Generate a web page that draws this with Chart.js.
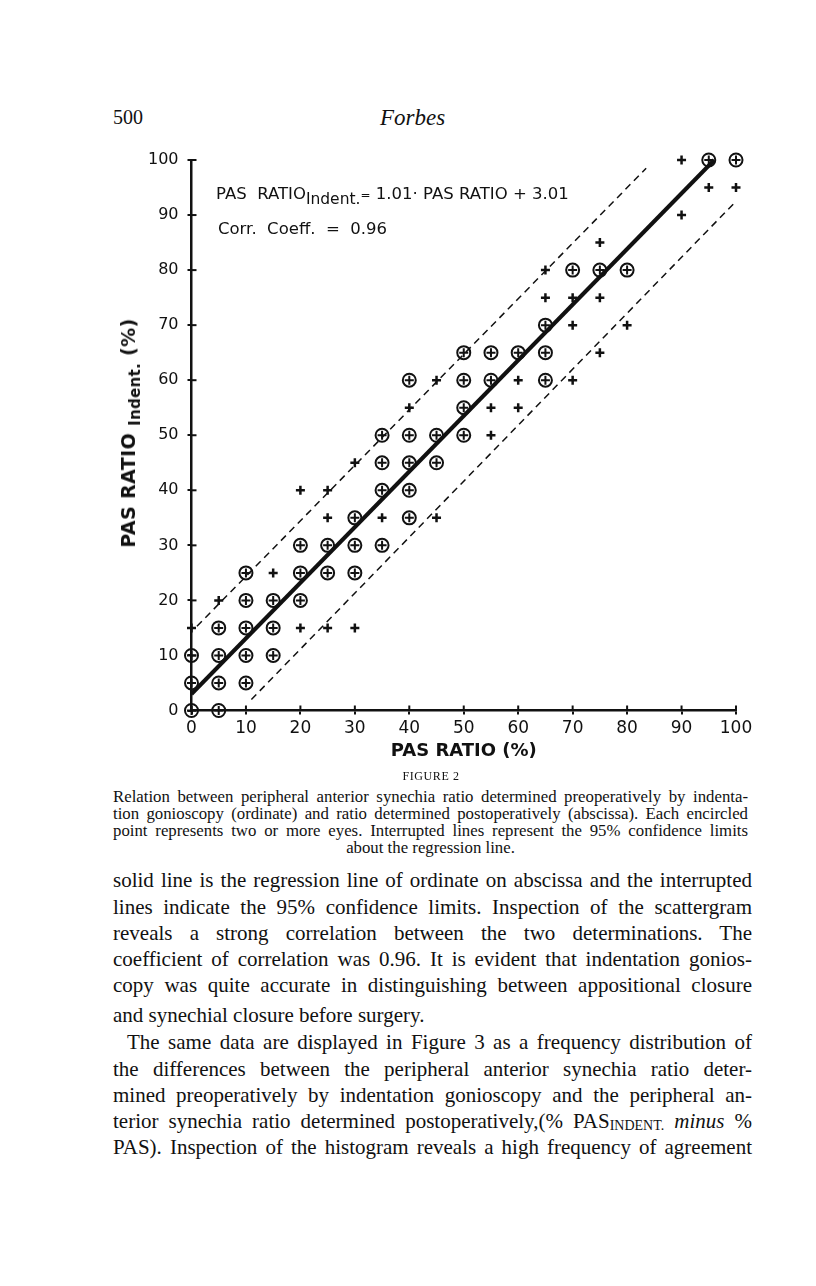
<!DOCTYPE html>
<html lang="en">
<head>
<meta charset="UTF-8">
<title>Figure 2 - PAS ratio scattergram</title>
<script src="https://cdn.jsdelivr.net/npm/chart.js"></script>
<style>
  body { margin: 0; background: #fff; color: #111; }
  #page { position: relative; width: 816px; height: 1286px; overflow: hidden; }
  .serif { font-family: "Liberation Serif", "DejaVu Serif", serif; }
  .abs { position: absolute; white-space: nowrap; }
  .line { position: absolute; left: 113px; white-space: nowrap; text-align: justify; text-align-last: justify; }
  .last { text-align-last: left; }
  .sans { font-family: "DejaVu Sans", "Liberation Sans", sans-serif; }
  #chartBox { position: absolute; left: 100px; top: 130px; width: 680px; height: 640px; }
</style>
</head>
<body>
<div id="page">
  <div class="abs serif" style="left:113px; top:106px; font-size:20px;">500</div>
  <div class="abs serif" style="left:380px; top:105px; font-size:23px; font-style:italic;">Forbes</div>

  <div id="chartBox"><canvas id="scatter" width="680" height="640"></canvas></div>

  <!-- y axis title, rotated, with subscript -->
  <div class="abs sans" style="left:128px; top:433px; transform:translate(-50%,-50%) rotate(-90deg); font-size:19px; font-weight:bold; letter-spacing:0.4px;">
    PAS RATIO <span style="font-size:15px; position:relative; top:5px; letter-spacing:0.3px;">Indent.</span> (%)
  </div>

  <!-- regression annotation -->
  <div class="abs sans" style="left:216px; top:184px; font-size:16.5px;">
    PAS&nbsp; RATIO<span style="font-size:15.5px; position:relative; top:5px;">Indent.</span><span style="font-size:12px;">=</span> 1.01· PAS RATIO + 3.01
  </div>
  <div class="abs sans" style="left:218px; top:219px; font-size:16.5px;">Corr.&nbsp; Coeff.&nbsp; = &nbsp;0.96</div>

  <!-- caption -->
  <div class="abs serif" style="left:0; width:862px; top:769px; text-align:center; font-size:12px; letter-spacing:0.6px;">FIGURE 2</div>
  <div class="serif" style="font-size:16.8px;">
    <div class="line" style="top:788px; width:635px; line-height:17px;">Relation between peripheral anterior synechia ratio determined preoperatively by indenta-</div>
    <div class="line" style="top:805px; width:635px; line-height:17px;">tion gonioscopy (ordinate) and ratio determined postoperatively (abscissa). Each encircled</div>
    <div class="line" style="top:822px; width:635px; line-height:17px;">point represents two or more eyes. Interrupted lines represent the 95% confidence limits</div>
    <div class="abs" style="left:113px; width:635px; top:839px; line-height:17px; text-align:center;">about the regression line.</div>
  </div>

  <!-- body text -->
  <div class="serif" style="font-size:21px;">
    <div class="line" style="top:867px; width:639px; line-height:26px;">solid line is the regression line of ordinate on abscissa and the interrupted</div>
    <div class="line" style="top:893.5px; width:639px; line-height:26px;">lines indicate the 95% confidence limits. Inspection of the scattergram</div>
    <div class="line" style="top:920px; width:639px; line-height:26px;">reveals a strong correlation between the two determinations. The</div>
    <div class="line" style="top:946px; width:639px; line-height:26px;">coefficient of correlation was 0.96. It is evident that indentation gonios-</div>
    <div class="line" style="top:972px; width:639px; line-height:26px;">copy was quite accurate in distinguishing between appositional closure</div>
    <div class="line last" style="top:1002px; width:639px; line-height:26px;">and synechial closure before surgery.</div>
    <div class="line" style="top:1029px; left:127px; width:625px; line-height:26px;">The same data are displayed in Figure 3 as a frequency distribution of</div>
    <div class="line" style="top:1055.5px; width:639px; line-height:26px;">the differences between the peripheral anterior synechia ratio deter-</div>
    <div class="line" style="top:1082px; width:639px; line-height:26px;">mined preoperatively by indentation gonioscopy and the peripheral an-</div>
    <div class="line" style="top:1108px; width:639px; line-height:26px;">terior synechia ratio determined postoperatively,(% PAS<span style="font-size:14px; position:relative; top:2px;">INDENT.</span> <i>minus</i> %</div>
    <div class="line" style="top:1134px; width:639px; line-height:26px;">PAS). Inspection of the histogram reveals a high frequency of agreement</div>
  </div>
</div>

<script>
// encircled points (two or more eyes): [PAS ratio, PAS ratio indent.]
const circledPts = [
  [0, 0], [5, 0],
  [0, 5], [5, 5], [10, 5],
  [0, 10], [5, 10], [10, 10], [15, 10],
  [5, 15], [10, 15], [15, 15],
  [10, 20], [15, 20], [20, 20],
  [10, 25], [20, 25], [25, 25], [30, 25],
  [20, 30], [25, 30], [30, 30], [35, 30],
  [30, 35], [40, 35],
  [35, 40], [40, 40],
  [35, 45], [40, 45], [45, 45],
  [35, 50], [40, 50], [45, 50], [50, 50],
  [50, 55],
  [40, 60], [50, 60], [55, 60], [65, 60],
  [50, 65], [55, 65], [60, 65], [65, 65],
  [65, 70],
  [70, 80], [75, 80], [80, 80],
  [95, 100], [100, 100]
];

// single eyes
const plusPts = [
  [0, 15], [20, 15], [25, 15], [30, 15],
  [5, 20],
  [15, 25],
  [25, 35], [35, 35], [45, 35],
  [20, 40], [25, 40],
  [30, 45],
  [55, 50],
  [40, 55], [55, 55], [60, 55],
  [45, 60], [60, 60], [70, 60],
  [75, 65],
  [70, 70], [80, 70],
  [65, 75], [70, 75], [75, 75],
  [65, 80],
  [75, 85],
  [90, 90],
  [95, 95], [100, 95],
  [90, 100]
];

// regression line and 95% confidence limits (end points)
const fitLine = [[0, 3], [96, 100]];
const upperLimit = [[1, 15.3], [83.5, 98.5]];
const lowerLimit = [[11, 2], [100, 92.5]];

const axisTicks = [0, 10, 20, 30, 40, 50, 60, 70, 80, 90, 100];

const ink = '#111';
const toXY = pts => pts.map(p => ({ x: p[0], y: p[1] }));

// small tick marks pointing into the plot, so ticks cross the axis
const crossTicks = {
  id: 'crossTicks',
  afterDraw(chart) {
    const { ctx, chartArea: ca, scales } = chart;
    ctx.save();
    ctx.strokeStyle = ink;
    ctx.lineWidth = 2;
    scales.x.ticks.forEach(t => {
      const px = scales.x.getPixelForValue(t.value);
      ctx.beginPath();
      ctx.moveTo(px, ca.bottom);
      ctx.lineTo(px, ca.bottom - 5);
      ctx.stroke();
    });
    scales.y.ticks.forEach(t => {
      const py = scales.y.getPixelForValue(t.value);
      ctx.beginPath();
      ctx.moveTo(ca.left, py);
      ctx.lineTo(ca.left + 5, py);
      ctx.stroke();
    });
    ctx.restore();
  }
};

const lineSet = (pts, width, dash) => ({
  type: 'line',
  data: toXY(pts),
  borderColor: ink,
  borderWidth: width,
  borderDash: dash,
  pointRadius: 0,
  fill: false,
  clip: false
});

new Chart(document.getElementById('scatter'), {
  type: 'scatter',
  data: {
    datasets: [
      {
        data: toXY(circledPts),
        pointStyle: 'circle',
        pointRadius: 6.5,
        borderWidth: 2,
        borderColor: ink,
        backgroundColor: 'rgba(0,0,0,0)',
        clip: false
      },
      {
        data: toXY(circledPts),
        pointStyle: 'cross',
        pointRadius: 4.5,
        borderWidth: 2,
        borderColor: ink,
        clip: false
      },
      {
        data: toXY(plusPts),
        pointStyle: 'cross',
        pointRadius: 4.5,
        borderWidth: 2.5,
        borderColor: ink,
        clip: false
      },
      lineSet(fitLine, 4, []),
      lineSet(upperLimit, 1.5, [7, 5]),
      lineSet(lowerLimit, 1.5, [7, 5])
    ]
  },
  options: {
    responsive: false,
    animation: false,
    events: [],
    layout: { padding: { top: 30, right: 44, left: 0, bottom: 0 } },
    plugins: { legend: { display: false }, tooltip: { enabled: false } },
    scales: {
      x: {
        type: 'linear',
        min: 0,
        max: 100,
        afterBuildTicks: s => { s.ticks = axisTicks.map(v => ({ value: v })); },
        afterFit: s => { s.height = 59.5; },
        grid: { drawOnChartArea: false, drawTicks: true, tickLength: 4, color: ink, lineWidth: 2 },
        border: { display: true, color: ink, width: 2.5 },
        ticks: { color: ink, padding: 4, maxRotation: 0, font: { family: 'DejaVu Sans', size: 17 } },
        title: {
          display: true,
          text: 'PAS RATIO (%)',
          color: ink,
          padding: { top: 0, bottom: 8 },
          font: { family: 'DejaVu Sans', size: 18, weight: 'bold' }
        }
      },
      y: {
        type: 'linear',
        min: 0,
        max: 100,
        afterBuildTicks: s => { s.ticks = axisTicks.map(v => ({ value: v })); },
        afterFit: s => { s.width = 91.5; },
        grid: { drawOnChartArea: false, drawTicks: true, tickLength: 4, color: ink, lineWidth: 2 },
        border: { display: true, color: ink, width: 2.5 },
        ticks: { color: ink, padding: 9, font: { family: 'DejaVu Sans', size: 16 } }
      }
    }
  },
  plugins: [crossTicks]
});
</script>
</body>
</html>
